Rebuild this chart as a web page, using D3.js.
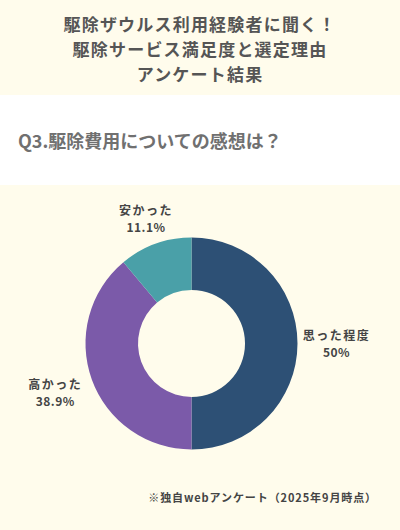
<!DOCTYPE html>
<html>
<head>
<meta charset="utf-8">
<script src="https://cdn.jsdelivr.net/npm/d3@7"></script>
<style>
  body { margin: 0; background: #fffcec; }
  svg { display: block; font-family: "Noto Sans CJK JP", "Noto Sans", sans-serif; }
</style>
</head>
<body>
<svg id="chart"></svg>
<script>
// chart data
const titleLines = ["駆除ザウルス利用経験者に聞く！", "駆除サービス満足度と選定理由", "アンケート結果"];
const question = "Q3.駆除費用についての感想は？";
const categories = ["思った程度", "高かった", "安かった"];
const values = [50, 38.9, 11.1];
const colors = ["#2d5075", "#7b5aa9", "#4aa0a8"];
const note = "※独自webアンケート（2025年9月時点）";

const width = 400;
const height = 530;
const svg = d3.select("#chart").attr("width", width).attr("height", height);

// background bands
svg.append("rect").attr("width", width).attr("height", height).attr("fill", "#fffcec");
svg.append("rect").attr("y", 95).attr("width", width).attr("height", 90).attr("fill", "#ffffff");

// title
svg.append("g")
  .selectAll("text")
  .data(titleLines)
  .join("text")
  .attr("x", width / 2)
  .attr("y", (d, i) => 31 + i * 25)
  .attr("text-anchor", "middle")
  .attr("font-size", 17)
  .attr("font-weight", "bold")
  .attr("letter-spacing", 1.2)
  .attr("fill", "#555")
  .text((d) => d);

svg.append("text")
  .attr("x", 18)
  .attr("y", 148)
  .attr("font-size", 18)
  .attr("font-weight", "bold")
  .attr("fill", "#707070")
  .text(question);

// donut
const cx = 191.5, cy = 343.5;
const outerR = 106, innerR = 53.5;

const pie = d3.pie().sort(null).value((d) => d.value);
const data = categories.map((c, i) => ({ name: c, value: values[i], color: colors[i] }));
const arcs = pie(data);

const arc = d3.arc().innerRadius(innerR).outerRadius(outerR);
// small slices get their label a bit closer
const labelPos = (d) => {
  const r = d.data.value < 20 ? 133 : 145;
  return d3.arc().innerRadius(r).outerRadius(r).centroid(d);
};

const g = svg.append("g").attr("transform", `translate(${cx},${cy})`);

g.selectAll("path")
  .data(arcs)
  .join("path")
  .attr("d", arc)
  .attr("fill", (d) => d.data.color);

const labels = g.selectAll("g.label")
  .data(arcs)
  .join("g")
  .attr("class", "label")
  .attr("transform", (d) => `translate(${labelPos(d)})`);

labels.append("text")
  .attr("y", -4)
  .attr("text-anchor", "middle")
  .attr("font-size", 12)
  .attr("font-weight", "bold")
  .attr("letter-spacing", 1.5)
  .attr("fill", "#444")
  .text((d) => d.data.name);

labels.append("text")
  .attr("y", 13)
  .attr("text-anchor", "middle")
  .attr("font-size", 12)
  .attr("font-weight", "bold")
  .attr("letter-spacing", 0.5)
  .attr("fill", "#444")
  .text((d) => d.data.value + "%");

// footnote
svg.append("text")
  .attr("x", 377)
  .attr("y", 502)
  .attr("text-anchor", "end")
  .attr("font-size", 11)
  .attr("font-weight", "bold")
  .attr("letter-spacing", 0.9)
  .attr("fill", "#444")
  .text(note);
</script>
</body>
</html>
